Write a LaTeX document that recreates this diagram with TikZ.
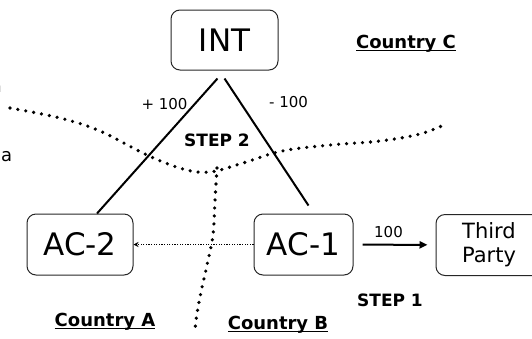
\documentclass[tikz,border=0pt]{standalone}
\usepackage{fontspec}
\setmainfont{DejaVu Sans}
\usetikzlibrary{arrows.meta}
\newcommand{\ulined}[1]{\setbox0\hbox{#1}\rlap{\rule[-3pt]{\wd0}{1.4pt}}\box0}

\tikzset{
  acct/.style={draw=black!85, line width=1pt, rounded corners=9pt,
               align=center, inner sep=0pt},
  flow/.style={line width=2pt},
  border/.style={line width=3.6pt, line cap=round, dash pattern=on 0pt off 8pt},
  moved/.style={line width=1.3pt, dash pattern=on 1.1pt off 1.5pt,
                -{Stealth[length=5pt,width=5pt]}},
  amt/.style={font=\fontsize{15}{18}\selectfont, inner sep=0pt},
  stepname/.style={font=\fontsize{17}{20}\selectfont\bfseries, inner sep=0pt},
  land/.style={font=\fontsize{18}{21}\selectfont\bfseries, inner sep=0pt},
}

\begin{document}
\begin{tikzpicture}[x=1pt,y=-1pt,>={Triangle[length=8pt,width=7pt]}]
   \clip (0,0) rectangle (532,338);
   % accounts
   \node[acct, minimum width=107pt, minimum height=60pt,
         font=\fontsize{31}{34}\selectfont] (int) at (224.5,40) {INT};
   \node[acct, minimum width=106pt, minimum height=61pt,
         font=\fontsize{31}{34}\selectfont] (ac2) at (80,244.5) {AC-2};
   \node[acct, minimum width=99pt, minimum height=61pt,
         font=\fontsize{31}{34}\selectfont] (ac1) at (303.5,244.5) {AC-1};
   \node[acct, minimum width=106pt, minimum height=61pt,
         font=\fontsize{21}{24}\selectfont] (third) at (489,245) {Third\\Party};

   % country borders
   \draw[border] plot[smooth, tension=0.6] coordinates {(10,108) (60,118)
      (100,131) (147,155) (183,169) (210,172) (243,163) (282,151) (330,145)
      (380,141) (420,134) (446,124)};
   \draw[border] plot[smooth, tension=0.6] coordinates {(217,168) (215,200)
      (213,235) (207,265) (200,297) (196,320) (195,333)};

   % transfers
   \draw[flow] ([xshift=-7pt,yshift=-8pt]int.south) -- ([xshift=17pt]ac2.north);
   \draw[flow] ([yshift=-8pt]int.south) -- ([xshift=5pt,yshift=8pt]ac1.north);
   \draw[flow,->,shorten <=9pt,shorten >=8pt] (ac1) -- (third);
   \draw[moved] (ac1.west) -- (ac2.east);

   % labels
   \node[amt] (plus) at (164.5,104) {+ 100};
   \node[amt] (minus) at (288.5,102) {- 100};
   \node[amt, anchor=base] (pay) at (388.5,237) {100};
   \node[stepname] (stepb) at (217,140) {STEP 2};
   \node[stepname, anchor=base] (stepa) at (390,306) {STEP 1};
   \node[land, anchor=base] (ctryc) at (406,48) {\ulined{Country C}};
   \node[land, anchor=base] (ctrya) at (105,326) {\ulined{Country A}};
   \node[land, anchor=base] (ctryb) at (278,329) {\ulined{Country B}};
   \node[font=\fontsize{18}{21}\selectfont, inner sep=0pt, anchor=base east]
      (cutn) at (2,92) {n};
   \node[font=\fontsize{18}{21}\selectfont, inner sep=0pt, anchor=base west]
      (cuta) at (1,161) {a};
\end{tikzpicture}
\end{document}
